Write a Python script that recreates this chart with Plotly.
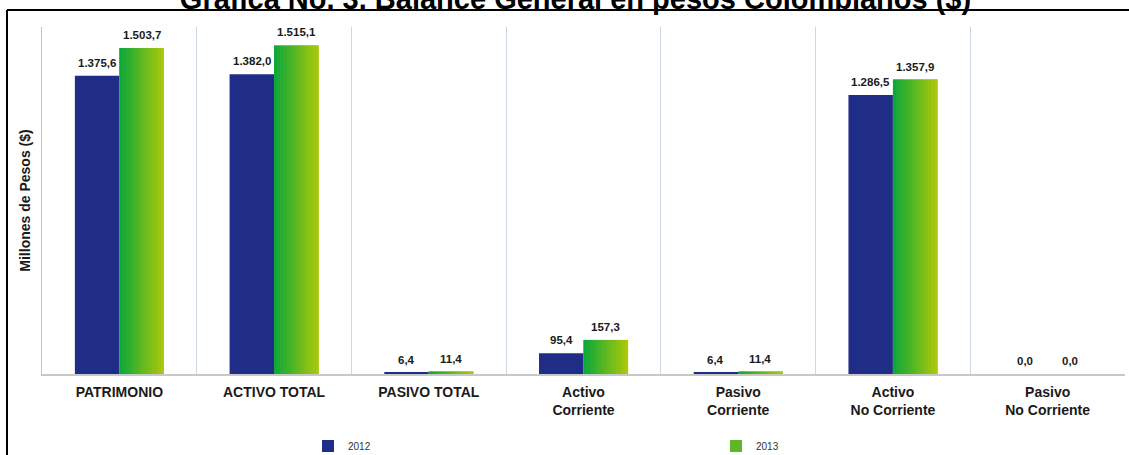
import plotly.graph_objects as go

categories = ["PATRIMONIO", "ACTIVO TOTAL", "PASIVO TOTAL", "Activo<br>Corriente",
              "Pasivo<br>Corriente", "Activo<br>No Corriente", "Pasivo<br>No Corriente"]
values_2012 = [1375.6, 1382.0, 6.4, 95.4, 6.4, 1286.5, 0.0]
values_2013 = [1503.7, 1515.1, 11.4, 157.3, 11.4, 1357.9, 0.0]
series_names = ["2012", "2013"]
title_text = "Grafica No. 3. Balance General en pesos Colombianos ($)"
y_title = "Millones de Pesos ($)"

BW = 0.2875
blue = "#1F2D86"
green_left = (14, 168, 58)
green_right = (171, 200, 10)
FONT = "Liberation Sans, Arial, sans-serif"

L, R, T, B = 42, 4, 27, 81
W, H = 1129, 455
pw, ph = W - L - R, H - T - B
cat_px = pw / len(categories)

fig = go.Figure()
fig.add_trace(go.Bar(
    x=categories, y=values_2012, name=series_names[0],
    offset=-BW, width=BW, marker=dict(color=blue, line=dict(width=0)),
))
fig.add_trace(go.Bar(
    x=categories, y=values_2013, name=series_names[1],
    offset=0, width=BW, marker=dict(color="#5CB828", line=dict(width=0)),
))
# gradient slices over the 2013 bars
N = 14
for i in range(N):
    t = i / (N - 1)
    c = tuple(int(round(a + (b - a) * t)) for a, b in zip(green_left, green_right))
    fig.add_trace(go.Bar(
        x=categories, y=values_2013, showlegend=False, hoverinfo="skip",
        offset=i * BW / N, width=BW / N + 0.001,
        marker=dict(color="rgb(%d,%d,%d)" % c, line=dict(width=0)),
    ))


def fmt(v):
    s = "{:,.1f}".format(v)
    return s.replace(",", "X").replace(".", ",").replace("X", ".")


# value labels
annotations = []
for vals, sign in ((values_2012, -1), (values_2013, 1)):
    for cat, v in zip(categories, vals):
        annotations.append(dict(
            x=cat, y=v, xref="x", yref="y", showarrow=False,
            text="<b>%s</b>" % fmt(v),
            xshift=sign * BW / 2 * cat_px, yshift=5, yanchor="bottom",
            font=dict(family=FONT, size=11.5, color="#1a1a1a"),
        ))

fig.update_layout(
    width=W, height=H,
    margin=dict(l=L, r=R, t=T, b=B, autoexpand=False),
    barmode="overlay",
    separators=",.",
    plot_bgcolor="white", paper_bgcolor="white",
    font=dict(family=FONT, color="#1a1a1a"),
    title=dict(text="<b>%s</b>" % title_text, x=(L + pw / 2 - 8) / W, xanchor="center",
               y=1 - 9 / H, yanchor="bottom", yref="container",
               font=dict(family=FONT, size=29, color="black")),
    xaxis=dict(type="category", range=[-0.5, 6.5], tickson="boundaries",
               showgrid=True, gridcolor="#CCD7EA", gridwidth=1,
               showline=True, linecolor="#C8C8C8", linewidth=2,
               ticks="", ticklabelstandoff=4, automargin=False,
               tickfont=dict(family=FONT, size=14, color="#1a1a1a", weight="bold")),
    yaxis=dict(range=[0, 1600], showgrid=False, zeroline=False, showticklabels=False,
               showline=True, linecolor="#B8C4DA", linewidth=1, automargin=False,
               title=dict(text="<b>%s</b>" % y_title, standoff=7,
                          font=dict(family=FONT, size=14, color="#1a1a1a"))),
    legend=dict(orientation="h", x=(308 - L) / pw, xanchor="left",
                y=(374 - 446) / ph, yanchor="middle",
                entrywidth=363, font=dict(family=FONT, size=10, color="#333"),
                bgcolor="rgba(0,0,0,0)"),
    showlegend=True,
    annotations=annotations,
    shapes=[
        dict(type="line", xref="paper", yref="paper",
             x0=(7 - L) / pw, x1=1.02, y0=1 + (T - 10) / ph, y1=1 + (T - 10) / ph,
             line=dict(color="black", width=2)),
        dict(type="line", xref="paper", yref="paper",
             x0=(7 - L) / pw, x1=(7 - L) / pw, y0=1 + (T - 10) / ph, y1=-0.3,
             line=dict(color="black", width=2)),
    ],
)

fig.write_html("out.html", config={"displayModeBar": False},
               post_script="document.body.style.margin='0';document.body.style.overflow='hidden';")
